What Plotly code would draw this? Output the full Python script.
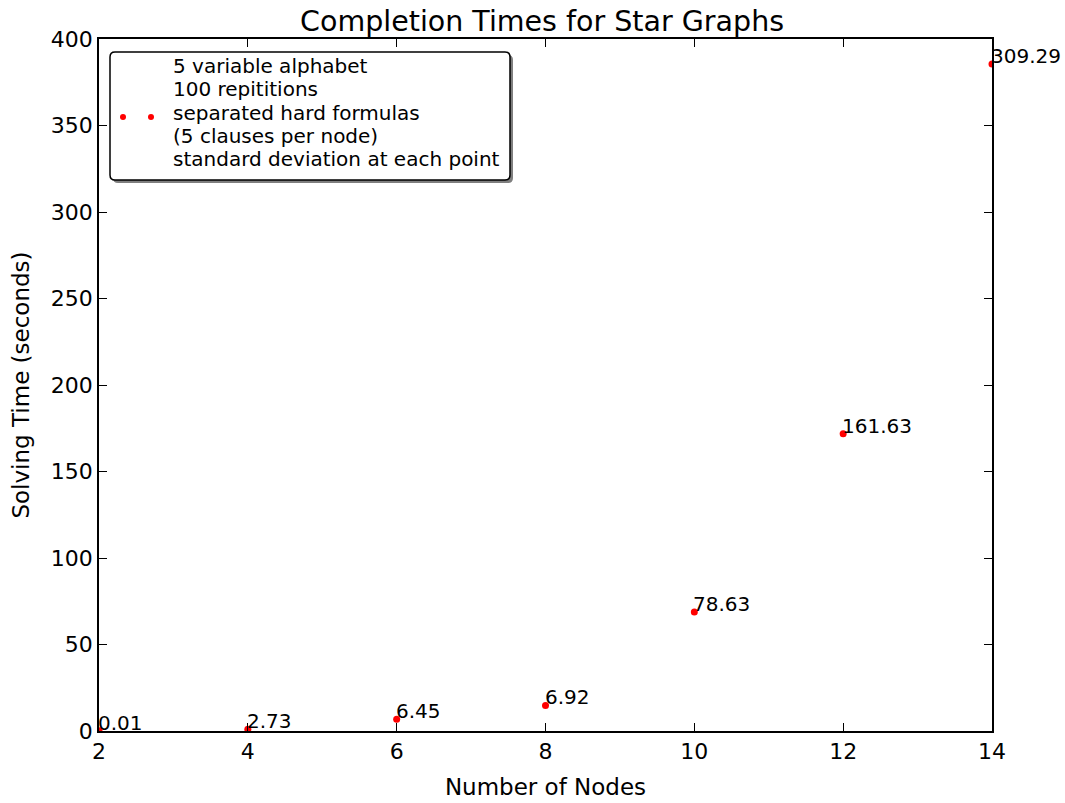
import plotly.graph_objects as go

# ---- data ----
num_nodes = [2, 4, 6, 8, 10, 12, 14]
mean_times = [0.1, 1.0, 6.8, 14.8, 68.8, 171.8, 385.5]
std_devs = ["0.01", "2.73", "6.45", "6.92", "78.63", "161.63", "309.29"]
x_ticks = [2, 4, 6, 8, 10, 12, 14]
y_ticks = [0, 50, 100, 150, 200, 250, 300, 350, 400]
legend_lines = ["5 variable alphabet", "100 repititions", "separated hard formulas",
                "(5 clauses per node)", "standard deviation at each point"]

FONT = "DejaVu Sans"
W, H = 1065, 803
ML, MR, MT, MB = 99, 73, 39, 72
PW, PH = W - ML - MR, H - MT - MB


def px(xp):
    return (xp - ML) / PW


def py(yp):
    return (H - MB - yp) / PH


fig = go.Figure()
fig.add_trace(go.Scatter(
    x=num_nodes, y=mean_times, mode="markers",
    marker=dict(color="#ff0000", size=7, line=dict(width=0)),
    name="<br>".join(legend_lines), showlegend=False,
))

for xv, yv, s in zip(num_nodes, mean_times, std_devs):
    fig.add_annotation(x=xv, y=yv, text=s, showarrow=False,
                       xanchor="left", yanchor="bottom", xshift=-3, yshift=-6,
                       font=dict(family=FONT, size=20, color="black"))


# ---- legend box (matplotlib-style, with shadow and two sample dots) ----
def rounded_rect(x0, y0, x1, y1, r):
    return (f"M {px(x0 + r)},{py(y0)} L {px(x1 - r)},{py(y0)} "
            f"Q {px(x1)},{py(y0)} {px(x1)},{py(y0 + r)} "
            f"L {px(x1)},{py(y1 - r)} Q {px(x1)},{py(y1)} {px(x1 - r)},{py(y1)} "
            f"L {px(x0 + r)},{py(y1)} Q {px(x0)},{py(y1)} {px(x0)},{py(y1 - r)} "
            f"L {px(x0)},{py(y0 + r)} Q {px(x0)},{py(y0)} {px(x0 + r)},{py(y0)} Z")


LX0, LY0, LX1, LY1 = 110, 52, 510, 180
fig.add_shape(type="path", xref="paper", yref="paper",
              path=rounded_rect(LX0 + 3, LY0 + 3, LX1 + 3, LY1 + 3, 5),
              fillcolor="#7f7f7f", line=dict(width=0), layer="above")
fig.add_shape(type="path", xref="paper", yref="paper",
              path=rounded_rect(LX0, LY0, LX1, LY1, 5),
              fillcolor="white", line=dict(color="black", width=1.5), layer="above")
for dx in (123, 151):
    fig.add_shape(type="circle", xref="paper", yref="paper",
                  x0=px(dx - 3), x1=px(dx + 3), y0=py(117 + 3), y1=py(117 - 3),
                  fillcolor="#ff0000", line=dict(width=0), layer="above")
for i, line in enumerate(legend_lines):
    fig.add_annotation(xref="paper", yref="paper", x=px(172), y=py(66 + i * 23.3),
                       text=line, showarrow=False, xanchor="left", yanchor="middle",
                       xshift=-1, font=dict(family=FONT, size=20, color="black"))

axis_common = dict(
    showgrid=False, zeroline=False, showline=True, linecolor="black", linewidth=1.5,
    mirror="allticks", ticks="inside", ticklen=8, tickwidth=1, tickcolor="black",
    tickfont=dict(family=FONT, size=22, color="black"), automargin=False,
)

fig.update_layout(
    width=W, height=H,
    margin=dict(l=ML, r=MR, t=MT, b=MB, autoexpand=False),
    paper_bgcolor="white", plot_bgcolor="white",
    font=dict(family=FONT, color="black"),
    title=dict(text="Completion Times for Star Graphs", x=0.509, xanchor="center",
               yref="paper", y=1, yanchor="bottom", pad=dict(b=8),
               font=dict(family=FONT, size=28.5, color="black")),
    xaxis=dict(range=[2, 14], tickvals=x_ticks,
               title=dict(text="Number of Nodes", font=dict(family=FONT, size=23), standoff=16),
               **axis_common),
    yaxis=dict(range=[0, 400], tickvals=y_ticks,
               title=dict(text="Solving Time (seconds)", font=dict(family=FONT, size=23), standoff=15),
               **axis_common),
    showlegend=False,
)

fig.write_html("out.html")
